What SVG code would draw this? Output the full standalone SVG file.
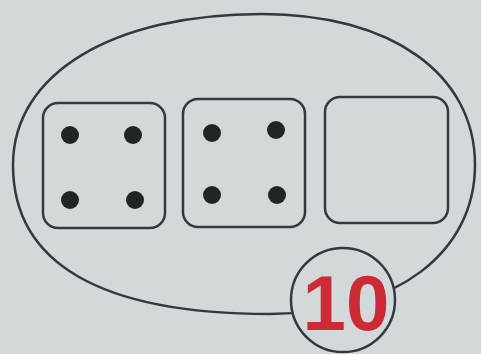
<svg xmlns="http://www.w3.org/2000/svg" width="481" height="354" viewBox="0 0 481 354">
<style>
.ln{fill:none;stroke:#34383c;stroke-width:2.5}
.box{fill:none;stroke:#34383c;stroke-width:2.5}
.dot{fill:#222528}
.num{font-family:"Liberation Sans",Arial,sans-serif;font-weight:bold;font-size:78px;fill:#cc2a36}
</style>
<rect width="481" height="354" fill="#d3d8db"/>
<g id="ellipse">
<path class="ln" d="M 13 165 C 13 74 112 14 262 14 C 391 14 475 74 475 165 C 475 250 400 314 270 314 C 100 314 13 263 13 165 Z"/>
</g>
<g id="box1">
<rect class="box" x="43" y="103" width="122" height="125" rx="15"/>
<circle class="dot" cx="70" cy="135" r="9"/>
<circle class="dot" cx="133" cy="135" r="9"/>
<circle class="dot" cx="70" cy="200" r="9"/>
<circle class="dot" cx="135" cy="200" r="9"/>
</g>
<g id="box2">
<rect class="box" x="183" y="99" width="122" height="128" rx="15"/>
<circle class="dot" cx="212" cy="133" r="9"/>
<circle class="dot" cx="276" cy="130" r="9"/>
<circle class="dot" cx="212" cy="195" r="9"/>
<circle class="dot" cx="277" cy="195" r="9"/>
</g>
<g id="box3">
<rect class="box" x="325" y="97" width="123" height="126" rx="15"/>
</g>
<g id="badge">
<circle cx="343" cy="300" r="52" fill="#d3d8db" stroke="#34383c" stroke-width="2.5"/>
<text class="num" x="346" y="330" text-anchor="middle">10</text>
</g>
</svg>
